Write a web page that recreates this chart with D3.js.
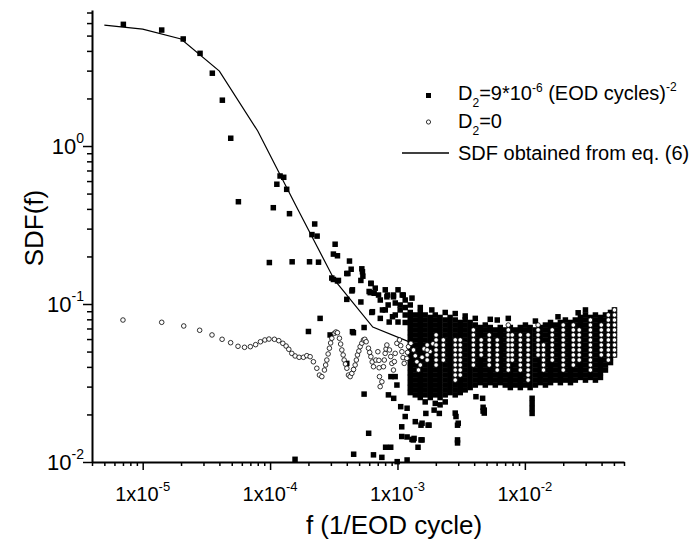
<!DOCTYPE html>
<html>
<head>
<meta charset="utf-8">
<script src="https://cdnjs.cloudflare.com/ajax/libs/d3/7.8.5/d3.min.js"></script>
<style>
    body { margin: 0; background: #fff; }
    text { font-family: Arial, "Liberation Sans", sans-serif; fill: #000; }
</style>
</head>
<body>
<div id="chart"></div>
<script>
    "use strict";

    // axis ranges and tick labels
    var xDomain = [4e-6, 6e-2];
    var yDomain = [0.01, 7.26];
    var xMajor = [1e-5, 1e-4, 1e-3, 1e-2];
    var xTickExp = ["-5", "-4", "-3", "-2"];
    var yMajor = [1, 0.1, 0.01];
    var yTickExp = ["0", "-1", "-2"];

    // SDF obtained from eq. (6)
    var lineF = [5e-6, 1e-5, 2e-5, 4e-5, 8e-5, 1.6e-4, 3.2e-4, 6.4e-4, 1.28e-3];
    var lineV = [5.83, 5.50, 4.76, 2.98, 1.244, 0.417, 0.142, 0.0715, 0.057];

    // D2 = 9e-6, single points [f, SDF]
    var sqSparse = [
        [7.05e-6, 5.89], [1.41e-5, 5.42], [2.08e-5, 4.76], [2.82e-5, 3.86], [3.52e-5, 2.89], [4.22e-5, 1.95], [4.91e-5, 1.12], [5.64e-5, .444],
        [9.87e-5, .183], [1.06e-4, .407], [1.13e-4, .573], [1.198e-4, .646], [1.28e-4, .634], [1.35e-4, .532], [1.42e-4, .373], [1.49e-4, .185], [1.57e-4, .0104],
        [2.00e-4, .0670], [2.04e-4, .185], [2.13e-4, .275], [2.24e-4, .321], [2.34e-4, .269], [2.40e-4, .184], [2.47e-4, .0811], [2.96e-4, .0637],
        [3.05e-4, .146], [3.14e-4, .207], [3.14e-4, .143], [3.24e-4, .239], [3.38e-4, .202], [3.38e-4, .140], [3.44e-4, .141],
        [4.00e-4, .156], [4.00e-4, .107], [4.00e-4, .0421], [4.08e-4, .156], [4.20e-4, .187], [4.33e-4, .166], [4.39e-4, .121], [4.43e-4, .123], [4.43e-4, .0668], [4.51e-4, .0658], [4.53e-4, .0112],
        [5.16e-4, .141], [5.16e-4, .103], [5.25e-4, .167], [5.31e-4, .160], [5.35e-4, .150], [5.47e-4, .0710], [5.47e-4, .0269], [5.94e-4, .0152], [5.99e-4, .120],
        [6.11e-4, .118], [6.18e-4, .135], [6.21e-4, .135], [6.29e-4, .0884], [6.36e-4, .0894], [6.48e-4, .0111], [6.56e-4, .117], [6.69e-4, .126],
        [7.10e-4, .114], [7.33e-4, .106], [7.33e-4, .0811], [7.54e-4, .0107], [7.62e-4, .0917],
        [8.02e-4, .123], [8.02e-4, .0917], [8.07e-4, .0124], [8.26e-4, .111], [8.34e-4, .114], [8.45e-4, .0986], [8.49e-4, .0266], [8.61e-4, .0769], [8.85e-4, .0124], [8.88e-4, .0347],
        [9.14e-4, .0831], [9.30e-4, .114], [9.30e-4, .111], [9.34e-4, .0253], [9.59e-4, .0347], [9.61e-4, .1015], [9.61e-4, .0852], [9.90e-4, .0307], [9.95e-4, .01005],
        [1.01e-3, .123], [1.01e-3, .0769], [1.05e-3, .0917], [1.05e-3, .0986], [1.06e-3, .0224], [1.08e-3, .0167], [1.08e-3, .0145], [1.09e-3, .114], [1.11e-3, .114],
        [1.15e-3, .106], [1.15e-3, .0950], [1.15e-3, .0852], [1.15e-3, .0764], [1.15e-3, .0194], [1.19e-3, .0219], [1.19e-3, .0144], [1.19e-3, .0103],
        [1.26e-3, .0986], [1.30e-3, .109], [1.30e-3, .0139], [1.33e-3, .0138], [1.35e-3, .0141], [1.38e-3, .0180], [1.45e-3, .0124], [1.53e-3, .0138], [1.53e-3, .0171], [1.56e-3, .0176], [1.56e-3, .0138],
        [1.51e-3, .0950], [1.86e-3, .0917], [2.37e-3, .0884], [2.84e-3, .0870], [3.40e-3, .0840], [4.08e-3, .0811], [5.35e-3, .0800], [6.07e-3, .0792], [7.41e-3, .0811],
        [1.21e-2, .0780], [1.82e-2, .0830], [2.62e-2, .0880],
        [1.65e-3, .0240], [1.67e-3, .0203], [1.74e-3, .0171], [1.77e-3, .0171], [1.94e-3, .0213], [1.98e-3, .0235], [2.13e-3, .0203], [2.16e-3, .0230], [2.37e-3, .0240],
        [2.84e-3, .0204], [2.88e-3, .0194], [2.96e-3, .0171], [2.96e-3, .0138], [2.96e-3, .0132], [3.00e-3, .0176],
        [4.13e-3, .0259], [4.66e-3, .0253], [4.70e-3, .0222], [4.70e-3, .0210], [4.80e-3, .0213], [4.80e-3, .0204],
        [1.14e-2, .0253], [1.14e-2, .0235], [1.14e-2, .0218], [1.14e-2, .0203]
    ];

    // D2 = 9e-6, dense part read column by column
    var cloudF = [1.26e-3, 1.38e-3, 1.51e-3, 1.65e-3, 1.81e-3, 1.98e-3, 2.16e-3, 2.37e-3, 2.59e-3, 2.84e-3,
        3.11e-3, 3.40e-3, 3.72e-3, 4.08e-3, 4.47e-3, 4.89e-3, 5.35e-3, 5.86e-3, 6.41e-3, 7.02e-3,
        7.69e-3, 8.41e-3, 9.21e-3, 1.01e-2, 1.10e-2, 1.21e-2, 1.32e-2, 1.45e-2, 1.59e-2, 1.74e-2,
        1.90e-2, 2.08e-2, 2.28e-2, 2.49e-2, 2.73e-2, 2.99e-2, 3.27e-2, 3.58e-2, 3.92e-2, 4.29e-2, 4.70e-2, 5.05e-2];
    var cloudV = [
        [.0884, .0822, .0764, .0710, .0660, .0614, .0571, .0531, .0493, .0459, .0426, .0396, .0368, .0343, .0318, .0296, .0275],
        [.0852, .0792, .0736, .0685, .0637, .0592, .0550, .0512, .0476, .0442, .0411, .0382, .0355, .0330, .0307, .0286, .0266],
        [.0884, .0822, .0764, .0710, .0660, .0614, .0571, .0531, .0493, .0459, .0426, .0396, .0368, .0343, .0318, .0296, .0275, .0256],
        [.0852, .0792, .0736, .0685, .0637, .0592, .0550, .0512, .0476, .0442, .0411, .0382, .0355, .0330, .0307, .0286, .0266],
        [.0822, .0764, .0710, .0660, .0614, .0571, .0531, .0493, .0459, .0426, .0396, .0368, .0343, .0318, .0296, .0275, .0256],
        [.0852, .0792, .0736, .0685, .0637, .0592, .0550, .0512, .0476, .0442, .0411, .0382, .0355, .0330, .0307, .0286, .0266],
        [.0822, .0764, .0710, .0660, .0614, .0571, .0531, .0493, .0459, .0426, .0396, .0368, .0343, .0318, .0296, .0275, .0256],
        [.0792, .0736, .0685, .0637, .0592, .0550, .0512, .0476, .0442, .0411, .0382, .0355, .0330, .0307, .0286, .0266],
        [.0822, .0764, .0710, .0660, .0614, .0571, .0531, .0493, .0459, .0426, .0396, .0368, .0343, .0318, .0296, .0275],
        [.0792, .0736, .0685, .0637, .0592, .0550, .0512, .0476, .0442, .0411, .0382, .0355, .0330, .0307, .0286, .0266],
        [.0764, .0710, .0660, .0614, .0571, .0531, .0493, .0459, .0426, .0396, .0368, .0343, .0318, .0296, .0275],
        [.0792, .0736, .0685, .0637, .0592, .0550, .0512, .0476, .0442, .0411, .0382, .0355, .0330, .0307, .0286],
        [.0764, .0710, .0660, .0614, .0571, .0531, .0493, .0459, .0426, .0396, .0368, .0343, .0318, .0296],
        [.0736, .0685, .0637, .0592, .0550, .0512, .0476, .0442, .0411, .0382, .0355, .0330, .0307],
        [.0710, .0660, .0614, .0571, .0531, .0493, .0459, .0426, .0396, .0368, .0343, .0318],
        [.0736, .0685, .0637, .0592, .0550, .0512, .0476, .0442, .0411, .0382, .0355, .0330, .0307],
        [.0710, .0660, .0614, .0571, .0531, .0493, .0459, .0426, .0396, .0368, .0343, .0318],
        [.0685, .0637, .0592, .0550, .0512, .0476, .0442, .0411, .0382, .0355, .0330, .0307],
        [.0710, .0660, .0614, .0571, .0531, .0493, .0459, .0426, .0396, .0368, .0343, .0318],
        [.0685, .0637, .0592, .0550, .0512, .0476, .0442, .0411, .0382, .0355, .0330, .0307],
        [.0710, .0660, .0614, .0571, .0531, .0493, .0459, .0426, .0396, .0368, .0343, .0318, .0296],
        [.0685, .0637, .0592, .0550, .0512, .0476, .0442, .0411, .0382, .0355, .0330, .0307],
        [.0710, .0660, .0614, .0571, .0531, .0493, .0459, .0426, .0396, .0368, .0343, .0318, .0296],
        [.0736, .0685, .0637, .0592, .0550, .0512, .0476, .0442, .0411, .0382, .0355, .0330, .0307],
        [.0710, .0660, .0614, .0571, .0531, .0493, .0459, .0426, .0396, .0368, .0343, .0318, .0296],
        [.0685, .0637, .0592, .0550, .0512, .0476, .0442, .0411, .0382, .0355, .0330, .0307],
        [.0710, .0660, .0614, .0571, .0531, .0493, .0459, .0426, .0396, .0368, .0343, .0318],
        [.0736, .0685, .0637, .0592, .0550, .0512, .0476, .0442, .0411, .0382, .0355, .0330, .0307],
        [.0764, .0710, .0660, .0614, .0571, .0531, .0493, .0459, .0426, .0396, .0368, .0343, .0318],
        [.0736, .0685, .0637, .0592, .0550, .0512, .0476, .0442, .0411, .0382, .0355, .0330],
        [.0764, .0710, .0660, .0614, .0571, .0531, .0493, .0459, .0426, .0396, .0368, .0343, .0318],
        [.0792, .0736, .0685, .0637, .0592, .0550, .0512, .0476, .0442, .0411, .0382, .0355, .0330],
        [.0764, .0710, .0660, .0614, .0571, .0531, .0493, .0459, .0426, .0396, .0368, .0343, .0318],
        [.0792, .0736, .0685, .0637, .0592, .0550, .0512, .0476, .0442, .0411, .0382, .0355, .0330],
        [.0822, .0764, .0710, .0660, .0614, .0571, .0531, .0493, .0459, .0426, .0396, .0368, .0343],
        [.0917, .0852, .0792, .0736, .0685, .0637, .0592, .0550, .0512, .0476, .0442, .0411, .0382, .0355, .0330],
        [.0822, .0764, .0710, .0660, .0614, .0571, .0531, .0493, .0459, .0426, .0396, .0368, .0343],
        [.0852, .0792, .0736, .0685, .0637, .0592, .0550, .0512, .0476, .0442, .0411, .0382, .0355, .0330],
        [.0822, .0764, .0710, .0660, .0614, .0571, .0531, .0493, .0459, .0426, .0396, .0368, .0343],
        [.0852, .0792, .0736, .0685, .0637, .0592, .0550, .0512, .0476, .0442, .0411, .0382],
        [.0884, .0822, .0764, .0710, .0660, .0614, .0571, .0531, .0493, .0459, .0426],
        [.0917, .0852, .0792, .0736, .0685, .0637, .0592, .0550, .0512, .0476]
    ];

    // D2 = 0, continuous part [f, SDF]
    var circChain = [
        [7.0e-6, .0792], [1.41e-5, .0766], [2.1e-5, .0726], [2.8e-5, .0682], [3.5e-5, .0637], [4.2e-5, .0598], [4.9e-5, .0569], [5.6e-5, .0540],
        [6.3e-5, .0532], [7.0e-5, .0537], [7.7e-5, .0553], [8.4e-5, .0577], [9.1e-5, .0592], [9.8e-5, .0600],
        [1.081e-4, .0598], [1.170e-4, .0586], [1.259e-4, .0564], [1.336e-4, .0542], [1.402e-4, .0517], [1.481e-4, .0487], [1.572e-4, .0469],
        [1.690e-4, .0460], [1.827e-4, .0460], [1.943e-4, .0471], [2.062e-4, .0464], [2.188e-4, .0431], [2.327e-4, .0392], [2.440e-4, .0355],
        [2.548e-4, .0347], [2.671e-4, .0382], [2.73e-4, .0411], [2.789e-4, .0442], [2.855e-4, .0483], [2.923e-4, .0525], [2.987e-4, .0567],
        [3.053e-4, .0607], [3.200e-4, .0653], [3.29e-4, .0665], [3.379e-4, .0658], [3.503e-4, .0607], [3.580e-4, .0558], [3.658e-4, .0512],
        [3.746e-4, .0476], [3.814e-4, .0442], [3.905e-4, .0417], [4.005e-4, .0392], [4.123e-4, .0355], [4.25e-4, .0347], [4.384e-4, .0364],
        [4.52e-4, .0385], [4.653e-4, .0411], [4.755e-4, .0442], [4.851e-4, .0476], [4.975e-4, .0504], [5.093e-4, .0537], [5.25e-4, .0565],
        [5.408e-4, .0592], [5.54e-4, .0598], [5.678e-4, .0577], [5.919e-4, .0525], [6.05e-4, .0494], [6.182e-4, .0464], [6.33e-4, .0430],
        [6.479e-4, .0401], [6.767e-4, .0442], [7.015e-4, .0499], [7.15e-4, .0440], [7.18e-4, .0395], [7.222e-4, .0347], [7.314e-4, .0300],
        [7.543e-4, .0322], [7.762e-4, .0401], [7.88e-4, .0442], [8.006e-4, .0487], [8.13e-4, .0519], [8.255e-4, .0550], [8.655e-4, .0512],
        [8.85e-4, .0465], [9.036e-4, .0421], [9.302e-4, .0382], [9.45e-4, .0432], [9.592e-4, .0487], [9.892e-4, .0564], [1.037e-3, .0592],
        [1.06e-3, .0545], [1.083e-3, .0499], [1.106e-3, .0458], [1.129e-3, .0421], [1.185e-3, .0453], [1.20e-3, .0494], [1.220e-3, .0537],
        [1.274e-3, .0564], [1.336e-3, .0512], [1.38e-3, .0470], [1.420e-3, .0431], [1.462e-3, .0382], [1.51e-3, .0411], [1.56e-3, .0460],
        [1.62e-3, .0520], [1.80e-3, .0500], [1.90e-3, .0560]
    ];

    // D2 = 0, dense part read column by column
    var circColF = [1.71e-3, 2.01e-3, 2.29e-3, 2.84e-3, 3.11e-3, 3.94e-3, 4.54e-3, 5.25e-3, 6.07e-3, 7.41e-3, 7.96e-3, 9.21e-3,
        1.06e-2, 1.27e-2, 1.40e-2, 1.64e-2, 2.00e-2, 2.40e-2, 2.67e-2, 3.27e-2, 3.98e-2, 4.52e-2, 5.05e-2];
    var circColV = [
        [.0550, .0512, .0476, .0442],
        [.0637, .0592, .0550, .0512, .0476, .0442, .0411],
        [.0592, .0550, .0512, .0476, .0442],
        [.0592, .0550, .0512, .0476, .0442, .0411, .0382, .0355, .0330],
        [.0592, .0550, .0512, .0476, .0442, .0411, .0382, .0355],
        [.0685, .0637, .0592, .0550, .0512, .0476, .0442, .0411],
        [.0592, .0550, .0512, .0476],
        [.0637, .0592, .0550, .0512, .0476, .0442, .0411],
        [.0592, .0550, .0512, .0476, .0442, .0411, .0382],
        [.0736, .0685, .0637, .0592, .0550, .0512, .0476, .0442, .0411, .0382],
        [.0637, .0592, .0550, .0512, .0476, .0442],
        [.0637, .0592, .0550, .0512, .0476, .0442, .0411, .0382],
        [.0637, .0592, .0550, .0512, .0476, .0442, .0411, .0382, .0355, .0330],
        [.0736, .0685, .0637, .0592, .0550, .0512, .0476],
        [.0550, .0512, .0476, .0442, .0411, .0382],
        [.0685, .0637, .0592, .0550, .0512, .0476, .0442],
        [.0736, .0685, .0637, .0592, .0550, .0512, .0476, .0442, .0411, .0382],
        [.0736, .0685, .0637, .0592, .0550, .0512, .0476, .0442, .0411],
        [.0685, .0637, .0592, .0550, .0512, .0476, .0442],
        [.0792, .0736, .0685, .0637, .0592, .0550, .0512, .0476, .0442, .0411, .0382],
        [.0736, .0685, .0637, .0592, .0550, .0512, .0476],
        [.0852, .0792, .0736, .0685, .0637, .0592, .0550, .0512, .0476, .0442],
        [.0917, .0852, .0792, .0736, .0685, .0637, .0592, .0550, .0512, .0476]
    ];

    var width = 699, height = 542;
    var sqSize = 5.5, circR = 2.3;

    var svg = d3.select("#chart").append("svg")
        .attr("xmlns", "http://www.w3.org/2000/svg")
        .attr("width", width)
        .attr("height", height);

    var x = d3.scaleLog().domain(xDomain).range([92, 624]);
    var y = d3.scaleLog().domain(yDomain).range([462, 10]);

    //1..9 times every decade inside the domain
    function logTicks(domain) {
        var out = [];
        for (var e = -7; e <= 1; e++) {
            for (var m = 1; m <= 9; m++) {
                var v = m * Math.pow(10, e);
                if (v >= domain[0] * 0.999 && v <= domain[1] * 1.001) out.push({v: v, major: m === 1});
            }
        }
        return out;
    }

    var xTicks = logTicks(xDomain);
    var yTicks = logTicks(yDomain);

    var xAxis = svg.append("g")
        .attr("transform", "translate(0,462)")
        .call(d3.axisBottom(x).tickValues(xTicks.map(function (d) { return d.v; }))
            .tickSizeOuter(0).tickFormat(""));
    xAxis.selectAll(".tick line")
        .attr("y2", function (d, i) { return xTicks[i].major ? 8 : 4; })
        .attr("stroke-width", 1.5);
    xAxis.select(".domain").attr("stroke-width", 2);

    var yAxis = svg.append("g")
        .attr("transform", "translate(92,0)")
        .call(d3.axisLeft(y).tickValues(yTicks.map(function (d) { return d.v; }))
            .tickSizeOuter(0).tickFormat(""));
    yAxis.selectAll(".tick line")
        .attr("x2", function (d, i) { return yTicks[i].major ? -9 : -5; })
        .attr("stroke-width", 1.5);
    yAxis.select(".domain").attr("stroke-width", 2);

    // tick labels with superscript exponents
    xMajor.forEach(function (v, i) {
        var t = svg.append("text")
            .attr("x", x(v))
            .attr("y", 501)
            .attr("text-anchor", "middle")
            .attr("font-size", "20px");
        t.append("tspan").text("1x10");
        t.append("tspan").attr("font-size", "13px").attr("dy", -10).text(xTickExp[i]);
    });

    yMajor.forEach(function (v, i) {
        var t = svg.append("text")
            .attr("x", 84)
            .attr("y", y(v) + 8)
            .attr("text-anchor", "end")
            .attr("font-size", "22px");
        t.append("tspan").text("10");
        t.append("tspan").attr("font-size", "14px").attr("dy", -11).text(yTickExp[i]);
    });

    svg.append("text")
        .attr("transform", "translate(43,228) rotate(-90)")
        .attr("text-anchor", "middle")
        .attr("font-size", "26px")
        .text("SDF(f)");

    svg.append("text")
        .attr("x", 394)
        .attr("y", 534)
        .attr("text-anchor", "middle")
        .attr("font-size", "26px")
        .text("f (1/EOD cycle)");

    // theory line
    var line = d3.line()
        .x(function (d) { return x(d[0]); })
        .y(function (d) { return y(d[1]); });

    svg.append("path")
        .datum(lineF.map(function (f, i) { return [f, lineV[i]]; }))
        .attr("d", line)
        .attr("fill", "none")
        .attr("stroke", "#000")
        .attr("stroke-width", 1.2);

    // squares
    var squares = sqSparse.slice();
    cloudF.forEach(function (f, i) {
        cloudV[i].forEach(function (v) { squares.push([f, v]); });
    });

    svg.append("g").selectAll("rect")
        .data(squares)
        .enter()
        .append("rect")
        .attr("x", function (d) { return x(d[0]) - sqSize / 2; })
        .attr("y", function (d) { return y(d[1]) - sqSize / 2; })
        .attr("width", sqSize)
        .attr("height", sqSize)
        .attr("fill", "#000");

    // circles
    var circles = circChain.slice();
    circColF.forEach(function (f, i) {
        circColV[i].forEach(function (v) { circles.push([f, v]); });
    });

    svg.append("g").selectAll("circle")
        .data(circles)
        .enter()
        .append("circle")
        .attr("cx", function (d) { return x(d[0]); })
        .attr("cy", function (d) { return y(d[1]); })
        .attr("r", circR)
        .attr("fill", "#fff")
        .attr("stroke", "#000")
        .attr("stroke-width", 0.8);

    // legend
    var legend = svg.append("g").attr("font-size", "20px");

    legend.append("rect")
        .attr("x", 426).attr("y", 93).attr("width", 5).attr("height", 5).attr("fill", "#000");
    var t1 = legend.append("text").attr("x", 458).attr("y", 100);
    t1.append("tspan").text("D");
    t1.append("tspan").attr("font-size", "12px").attr("dy", 7).text("2");
    t1.append("tspan").attr("dy", -7).text("=9*10");
    t1.append("tspan").attr("font-size", "12px").attr("dy", -8).text("-6");
    t1.append("tspan").attr("dy", 8).text(" (EOD cycles)");
    t1.append("tspan").attr("font-size", "12px").attr("dy", -9).text("-2");

    legend.append("circle")
        .attr("cx", 428.5).attr("cy", 122).attr("r", 2.1)
        .attr("fill", "#fff").attr("stroke", "#000").attr("stroke-width", 0.8);
    var t2 = legend.append("text").attr("x", 458).attr("y", 128);
    t2.append("tspan").text("D");
    t2.append("tspan").attr("font-size", "12px").attr("dy", 7).text("2");
    t2.append("tspan").attr("dy", -7).text("=0");

    legend.append("line")
        .attr("x1", 402).attr("x2", 449).attr("y1", 153).attr("y2", 153)
        .attr("stroke", "#000").attr("stroke-width", 1.5);
    legend.append("text").attr("x", 458).attr("y", 160).text("SDF obtained from eq. (6)");
</script>
</body>
</html>
